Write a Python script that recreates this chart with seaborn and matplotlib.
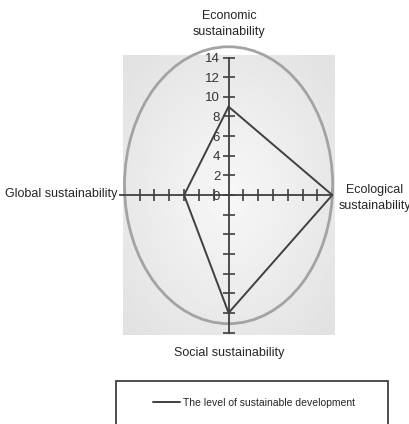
import matplotlib.pyplot as plt
import matplotlib.patches as mpatches
import numpy as np
import pandas as pd
import seaborn as sns

# values, one per axis, clockwise from the top
dimensions = ["Economic sustainability", "Ecological sustainability",
              "Social sustainability", "Global sustainability"]
levels = [9, 14, 12, 6]
tick_values = [0, 2, 4, 6, 8, 10, 12, 14]
series_name = "The level of sustainable development"

# direction of each axis of the diamond
dir_x = [0, 1, 0, -1]
dir_y = [1, 0, -1, 0]

df = pd.DataFrame({"dimension": dimensions, "level": levels})
df["x"] = df["level"] * np.array(dir_x)
df["y"] = df["level"] * np.array(dir_y)
closed = pd.concat([df, df.iloc[[0]]], ignore_index=True)
closed["series"] = series_name

sns.set_style("white")
plt.rcParams["font.family"] = ["Liberation Sans", "DejaVu Sans"]

fig = plt.figure(figsize=(4.1, 4.24), dpi=100)
ax = fig.add_axes([0.300, 0.210, 0.515, 0.660])
lim = 14.25

# grey gradient plot area
gx, gy = np.meshgrid(np.linspace(-1, 1, 200), np.linspace(-1, 1, 200))
r = np.clip(np.sqrt(gx ** 2 + gy ** 2) / 1.35, 0, 1)
shade = 0.97 - 0.085 * r
ax.imshow(shade, cmap="gray", vmin=0, vmax=1, extent=[-lim, lim, -lim, lim],
          aspect="auto", zorder=0, interpolation="bilinear")

# decorative ellipse around the radar
ell = mpatches.Ellipse((0, 1.0), 28.1, 28.2, fill=False, ec="#a3a3a3", lw=2.0,
                       zorder=1, clip_on=False)
ax.add_patch(ell)

sns.lineplot(data=closed, x="x", y="y", sort=False, estimator=None,
             color="#404040", lw=1.4, ax=ax, label=series_name, legend=False,
             zorder=3)

ax.set_xlim(-lim, lim)
ax.set_ylim(-lim, lim)

for s in ["top", "right"]:
    ax.spines[s].set_visible(False)
ax.spines["left"].set_position(("data", 0))
ax.spines["bottom"].set_position(("data", 0))
ax.spines["left"].set_bounds(-14, 14)
ax.spines["bottom"].set_bounds(-14.7, 14)
for s in ["left", "bottom"]:
    ax.spines[s].set_color("#404040")
    ax.spines[s].set_linewidth(1.3)
    ax.spines[s].set_zorder(2)

all_ticks = list(range(-14, 15, 2))
ax.set_yticks(all_ticks)
ax.set_yticklabels([str(t) if t in tick_values else "" for t in all_ticks])
ax.set_xticks([t for t in all_ticks if t != 0])
ax.set_xticklabels([])
ax.tick_params(axis="both", direction="inout", length=8, width=1.2,
               color="#404040", left=True, bottom=True)
ax.tick_params(axis="y", labelsize=9.5, pad=2, labelcolor="#333333")
ax.set_xlabel("")
ax.set_ylabel("")

txt = dict(fontsize=9, color="#262626")
fig.text(229 / 410, 1 - 24 / 424, "Economic\nsustainability", ha="center",
         va="center", linespacing=1.35, **txt)
fig.text(375 / 410, 1 - 198 / 424, "Ecological\nsustainability", ha="center",
         va="center", linespacing=1.35, **txt)
fig.text(117 / 410, 1 - 194 / 424, "Global sustainability", ha="right",
         va="center", **txt)
fig.text(229 / 410, 1 - 353 / 424, "Social sustainability", ha="center",
         va="center", **txt)

# legend box, cut off by the bottom of the picture
box = mpatches.Rectangle((116 / 410, -0.05), (388 - 116) / 410,
                         (424 - 381) / 424 + 0.05, transform=fig.transFigure,
                         fill=False, ec="#404040", lw=1.3)
fig.patches.append(box)
handles, labels = ax.get_legend_handles_labels()
fig.legend(handles, labels, loc="center", bbox_to_anchor=(254 / 410, 1 - 403 / 424),
           frameon=False, fontsize=7.5, handlelength=2.6, handletextpad=0.3,
           labelcolor="#262626")

fig.savefig("out.png", dpi=100)
